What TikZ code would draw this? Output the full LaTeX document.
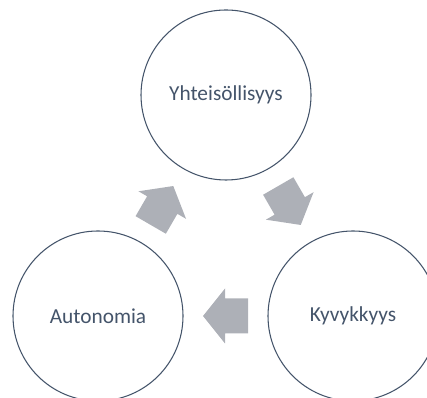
\documentclass[tikz,border=0pt]{standalone}
\usepackage{fontspec}
\setmainfont{Carlito}
\usetikzlibrary{calc}
\definecolor{ink}{HTML}{44546A}
\definecolor{arrowgray}{RGB}{173,176,183}
\tikzset{
  bubble/.style={circle, draw=ink, line width=0.8pt, minimum size=127.5pt, inner sep=0pt,
    text=ink, font=\fontsize{16}{19}\selectfont},
  blockarrow/.style={fill=arrowgray, draw=none}
}
\begin{document}
\begin{tikzpicture}[x=0.75pt,y=0.75pt]
\useasboundingbox (0,0) rectangle (427,398);
\clip (0,0) rectangle (427,398);
\node[bubble] (top) at (226,303) {Yhteisöllisyys};
\node[bubble] (left) at (98,82) {Autonomia};
\node[bubble] (right) at (353,82) {Kyvykkyys};
\foreach \a/\b/\ang in {left/top/59.9, top/right/-60, right/left/180}{
  \fill[blockarrow, shift={($(\a.center)!0.5!(\b.center)$)}, rotate=\ang]
    (-22.5,-17.5) -- (0.5,-17.5) -- (0.5,-27.5) -- (22.5,0) -- (0.5,27.5) -- (0.5,17.5) -- (-22.5,17.5) -- cycle;
}
\end{tikzpicture}
\end{document}
